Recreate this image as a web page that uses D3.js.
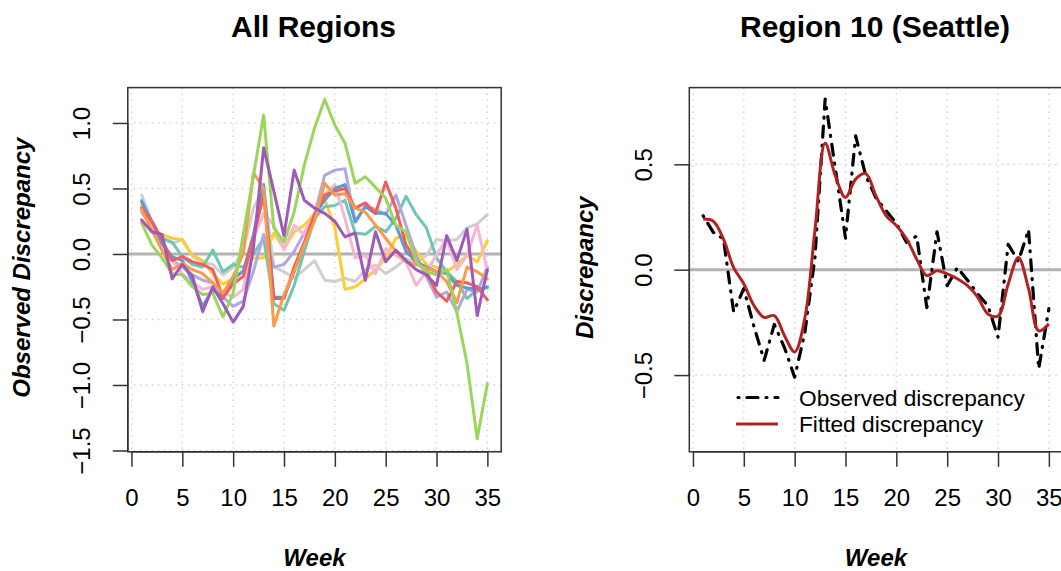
<!DOCTYPE html>
<html><head><meta charset="utf-8">
<script src="https://cdn.jsdelivr.net/npm/d3@7"></script>
<style>body{margin:0;background:#fff}svg{display:block}text{font-family:"Liberation Sans",Arial,Helvetica,sans-serif;fill:#000}</style>
</head><body><svg id="c" width="1061" height="571"></svg>
<script>
const weeks = d3.range(1, 36);
const xTicks = [0,5,10,15,20,25,30,35];
const yTicksLeft = [-1.5,-1.0,-0.5,0.0,0.5,1.0];
const yTicksRight = [-0.5,0.0,0.5];
const regionNames = ["gray","yellow","teal","lavender","pink","blue","red","orange","green","purple"];
const regionColors = ["#cfcfcf","#ffcc33","#6fc6b5","#b2a8de","#f6b6d4","#5b9bd5","#f05d5d","#f99b48","#9ad65a","#9f5ab7"];
const gray     = [0.45,0.25,0.12,0.08,0.11,-0.02,-0.06,-0.08,-0.16,-0.10,0.03,0.35,0.50,-0.10,-0.135,-0.185,-0.12,-0.05,-0.20,-0.21,-0.185,-0.21,-0.12,-0.085,-0.15,-0.10,-0.035,-0.07,-0.01,0.11,0.10,0.11,0.20,0.23,0.30];
const yellow   = [0.37,0.18,0.15,0.12,0.11,-0.01,-0.05,-0.15,-0.23,-0.19,-0.13,-0.03,-0.03,0.16,0.04,0.17,0.22,0.31,0.42,0.20,-0.27,-0.25,-0.19,-0.12,-0.03,0.12,0.145,0.02,-0.08,-0.10,-0.135,-0.08,-0.01,-0.06,0.10];
const teal     = [0.41,0.22,0.12,0.09,-0.02,-0.08,-0.10,0.03,-0.135,-0.08,-0.10,0.0,0.12,-0.38,-0.43,-0.24,0.02,0.27,0.36,0.37,0.41,0.16,0.15,0.21,0.17,0.27,0.44,0.30,0.20,-0.03,-0.135,-0.21,-0.34,-0.27,-0.26];
const lavender = [0.32,0.21,0.03,-0.05,-0.10,-0.16,-0.20,-0.22,-0.33,-0.40,-0.36,-0.13,0.15,-0.10,-0.08,0.02,0.16,0.30,0.60,0.64,0.65,0.245,0.37,0.34,0.30,0.45,0.22,-0.01,-0.17,-0.33,-0.29,-0.44,-0.27,-0.29,-0.10];
const pink     = [0.35,0.20,0.03,-0.05,-0.15,-0.22,-0.27,-0.25,-0.29,-0.33,-0.27,0.12,0.31,0.22,0.03,0.22,0.145,0.31,0.45,0.53,0.27,-0.03,-0.01,-0.15,0.04,-0.01,-0.06,-0.24,-0.135,-0.01,0.12,-0.12,-0.01,0.22,-0.13];
const blue     = [0.40,0.25,0.08,-0.02,-0.05,-0.21,-0.40,-0.27,-0.34,-0.19,-0.13,0.15,0.53,-0.33,-0.33,-0.135,0.07,0.30,0.41,0.50,0.53,0.245,0.36,0.31,0.31,0.22,0.02,-0.06,-0.10,-0.135,-0.15,-0.24,-0.26,-0.27,-0.25];
const red      = [0.35,0.25,0.11,-0.05,-0.02,-0.06,-0.08,-0.12,-0.33,-0.23,-0.17,0.13,0.45,-0.34,-0.34,-0.10,0.09,0.30,0.45,0.48,0.50,0.35,0.39,0.31,0.55,0.35,0.07,-0.06,-0.135,-0.29,-0.36,-0.21,-0.22,-0.25,-0.35];
const orange   = [0.34,0.18,0.03,-0.12,-0.07,-0.12,-0.15,-0.22,-0.30,-0.17,0.0,0.62,0.50,-0.55,-0.31,-0.135,0.07,0.25,0.54,0.45,0.46,0.35,0.32,0.22,0.12,0.02,-0.06,-0.08,-0.11,-0.135,-0.21,-0.37,-0.10,-0.135,-0.19];
const green    = [0.24,0.07,-0.03,-0.15,-0.16,-0.25,-0.31,-0.30,-0.48,-0.30,0.15,0.60,1.06,0.20,0.09,0.32,0.68,0.96,1.18,0.985,0.845,0.54,0.59,0.51,0.425,0.22,0.17,-0.06,-0.135,-0.16,-0.12,-0.45,-0.835,-1.41,-0.99];
const purple   = [0.26,0.17,0.15,-0.19,-0.08,-0.17,-0.44,-0.25,-0.38,-0.52,-0.40,0.05,0.81,0.48,0.14,0.64,0.41,0.35,0.31,0.25,0.13,0.16,-0.20,0.17,-0.06,0.03,-0.05,-0.12,-0.16,-0.24,0.14,-0.05,0.19,-0.47,-0.12];
const regionSeries = [gray,yellow,teal,lavender,pink,blue,red,orange,green,purple];
const seattleObserved = [0.256,0.177,0.146,-0.20,-0.09,-0.27,-0.43,-0.26,-0.37,-0.51,-0.30,0.06,0.81,0.48,0.15,0.635,0.445,0.34,0.28,0.22,0.13,0.16,-0.18,0.18,-0.076,0.01,-0.05,-0.115,-0.17,-0.32,0.12,0.04,0.19,-0.47,-0.185];
const seattleFitted   = [0.24,0.23,0.145,0.01,-0.067,-0.17,-0.226,-0.218,-0.313,-0.39,-0.23,0.19,0.60,0.445,0.343,0.43,0.455,0.35,0.256,0.21,0.147,0.05,-0.028,-0.005,-0.02,-0.043,-0.076,-0.13,-0.21,-0.22,-0.068,0.058,-0.09,-0.29,-0.257];
const legendLabels = ["Observed discrepancy","Fitted discrepancy"];

const svg = d3.select("#c");

function panel(opts){
  const g = svg.append("g");
  const x = d3.scaleLinear().domain([-0.36,36.36]).range([opts.left, opts.left+373.4]);
  const y = d3.scaleLinear().domain(opts.ydom).range([451.8, 87.6]);
  const [x0,x1] = x.range(), [y0,y1] = y.range();
  g.selectAll(".vg").data(xTicks).join("line")
    .attr("x1",d=>x(d)).attr("x2",d=>x(d)).attr("y1",y1).attr("y2",y0)
    .attr("stroke","#cfcfcf").attr("stroke-width",1.3).attr("stroke-dasharray","1.5,4.5");
  g.selectAll(".hg").data(opts.yticks).join("line")
    .attr("x1",x0).attr("x2",x1).attr("y1",d=>y(d)).attr("y2",d=>y(d))
    .attr("stroke","#cfcfcf").attr("stroke-width",1.3).attr("stroke-dasharray","1.5,4.5");
  g.append("line").attr("x1",x0).attr("x2",x1).attr("y1",y(0)).attr("y2",y(0))
    .attr("stroke","#b3b3b3").attr("stroke-width",3);
  const xa = g.append("g").attr("transform",`translate(0,${y0})`)
    .call(d3.axisBottom(x).tickValues(xTicks).tickSize(15).tickPadding(22).tickFormat(d3.format("d")));
  xa.select(".domain").attr("d",`M${x(0)},0H${x(35)}`).attr("stroke","#333").attr("stroke-width",1.5);
  xa.selectAll(".tick line").attr("stroke","#333").attr("stroke-width",1.5);
  xa.selectAll(".tick text").attr("font-size",24).attr("fill","#111").attr("dy","0.71em");
  const ya = g.append("g").attr("transform",`translate(${x0},0)`)
    .call(d3.axisLeft(y).tickValues(opts.yticks).tickSize(15).tickFormat(d3.format(".1f")));
  ya.select(".domain").remove();
  ya.selectAll(".tick line").attr("stroke","#333").attr("stroke-width",1.5);
  ya.selectAll(".tick text").attr("font-size",24).attr("fill","#111")
    .attr("text-anchor","middle").attr("x",0).attr("dy",0)
    .attr("transform","translate(-37.5,0) rotate(-90)");
  g.append("line").attr("x1",x0).attr("x2",x0).attr("y1",y(opts.yticks[0])).attr("y2",y(opts.yticks[opts.yticks.length-1]))
    .attr("stroke","#333").attr("stroke-width",1.5);
  g.append("rect").attr("x",x0).attr("y",y1).attr("width",x1-x0).attr("height",y0-y1)
    .attr("fill","none").attr("stroke","#333").attr("stroke-width",1.5);
  const cx = (x0+x1)/2, cy=(y0+y1)/2;
  g.append("text").attr("x",cx-1).attr("y",37).attr("text-anchor","middle")
    .attr("font-size",30).attr("font-weight","bold").text(opts.title);
  g.append("text").attr("x",cx).attr("y",566).attr("text-anchor","middle")
    .attr("font-size",24).attr("font-weight","bold").attr("font-style","italic").text("Week");
  g.append("text").attr("transform",`translate(${opts.ylabX},${cy-2}) rotate(-90)`).attr("text-anchor","middle")
    .attr("font-size",24).attr("font-weight","bold").attr("font-style","italic").text(opts.ylab);
  return {g,x,y};
}

const L = panel({left:127.8, ydom:[-1.51,1.27], yticks:yTicksLeft, title:"All Regions", ylab:"Observed Discrepancy", ylabX:30});
const lineL = d3.line().x((d,i)=>L.x(weeks[i])).y(d=>L.y(d));
L.g.selectAll(".reg").data(regionSeries).join("path")
  .attr("d",lineL).attr("fill","none").attr("stroke",(d,i)=>regionColors[i])
  .attr("stroke-width",3).attr("stroke-linejoin","round").attr("stroke-linecap","round");

const R = panel({left:689.3, ydom:[-0.864,0.864], yticks:yTicksRight, title:"Region 10 (Seattle)", ylab:"Discrepancy", ylabX:593});
const lineR = d3.line().x((d,i)=>R.x(weeks[i])).y(d=>R.y(d));
R.g.append("path").attr("d",lineR(seattleObserved)).attr("fill","none").attr("stroke","#000")
  .attr("stroke-width",3.2).attr("stroke-dasharray","1,8,11,8").attr("stroke-linecap","round").attr("stroke-linejoin","round");
R.g.append("path").attr("d",lineR.curve(d3.curveCatmullRom.alpha(0.5))(seattleFitted)).attr("fill","none").attr("stroke","#b22222")
  .attr("stroke-width",3).attr("stroke-linejoin","round");
const leg = R.g.append("g");
const legY = [397.5, 424];
leg.append("line").attr("x1",738).attr("x2",778).attr("y1",legY[0]).attr("y2",legY[0])
  .attr("stroke","#000").attr("stroke-width",3.2).attr("stroke-dasharray","1,8,11,8").attr("stroke-linecap","round");
leg.append("line").attr("x1",736).attr("x2",778).attr("y1",legY[1]).attr("y2",legY[1])
  .attr("stroke","#b22222").attr("stroke-width",3);
leg.selectAll("text").data(legendLabels).join("text")
  .attr("x",799).attr("y",(d,i)=>legY[i]+8).attr("font-size",22.7).attr("fill","#111").text(d=>d);
</script></body></html>
